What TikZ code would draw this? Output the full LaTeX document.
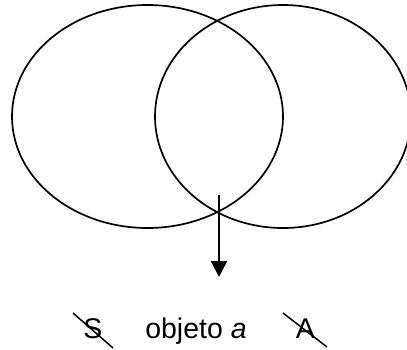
\documentclass[tikz,border=0pt]{standalone}
\usepackage{fontspec}
\setmainfont{Liberation Sans}
\usepackage{tikz}
\usetikzlibrary{arrows.meta,positioning,calc}
\tikzset{
    set/.style={draw, line width=1.7pt},
    lbl/.style={font=\fontsize{28.5}{34}\selectfont, anchor=base, inner sep=0pt},
    bar/.style={draw, line width=1.5pt},
    line/.style={draw, line width=2.2pt, -{Triangle[width=16pt,length=16pt]}},
}
\begin{document}
\begin{tikzpicture}[x=1pt, y=-1pt]
        \useasboundingbox (0,0) rectangle (407,349);
        % Two sets
        \draw[set] (147.5,116.5) ellipse [x radius=135.5, y radius=111.5];
        \draw[set] (283,116.5) ellipse [x radius=128, y radius=111.5];

        % Intersection and arrow
        \coordinate (top)  at (219,195);
        \coordinate (down) at (219,277);
        \draw[line] (top) -- (down);

        % Labels
        \node [lbl] (S)   at (93,338)    {S};
        \node [lbl] (obj) at (196,338)   {objeto \textit{a}};
        \node [lbl] (A)   at (305.5,338) {A};

        % Bars
        \draw[bar] ($(S.base)+(-20,-25)$) -- ($(S.base)+(20,10)$);
        \draw[bar] ($(A.base)+(-22.5,-25)$) -- ($(A.base)+(21.5,9)$);
    \end{tikzpicture}
\end{document}
